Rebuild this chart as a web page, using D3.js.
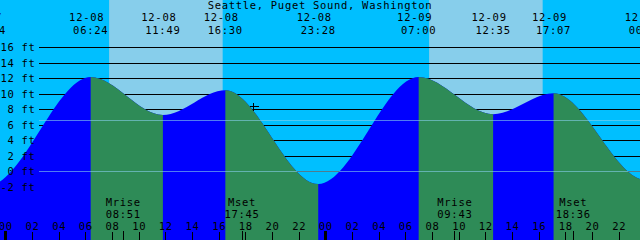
<!DOCTYPE html>
<html>
<head>
<meta charset="utf-8">
<script src="https://cdn.jsdelivr.net/npm/d3@7"></script>
<style>
  body { margin: 0; background: #fff; }
  svg { display: block; }
  text { font-family: "DejaVu Sans Mono", monospace; font-size: 10.5px; letter-spacing: 0.7px; fill: #000; }
</style>
</head>
<body>
<div id="chart"></div>
<script>
var svgWidth = 640;
var svgHeight = 240;

var title = "Seattle, Puget Sound, Washington";

// tide highs and lows (first and last one sit off the chart)
var tideDates = ["12-07", "12-07", "12-08", "12-08", "12-08", "12-08", "12-09", "12-09", "12-09", "12-10", "12-10"];
var tideTimes = ["15:52", "22:44", "06:24", "11:49", "16:30", "23:28", "07:00", "12:35", "17:07", "00:04", "07:36"];
var tideHeights = [10.6, -1.8, 12.2, 7.3, 10.5, -1.6, 12.2, 7.4, 10.1, -1.1, 12.0];

// daylight
var sunDates = ["12-08", "12-09"];
var sunrise = ["07:47", "07:47"];
var sunset = ["16:18", "16:18"];

// moon rise / set
var moonDates = ["12-08", "12-08", "12-09", "12-09"];
var moonTimes = ["08:51", "17:45", "09:43", "18:36"];
var moonNames = ["Mrise", "Mset", "Mrise", "Mset"];

// y ticks in ft and the lighter reference levels
var ftTicks = [-2, 0, 2, 4, 6, 8, 10, 12, 14, 16];
var markLevels = [0, 6.6];

// hour ticks along the bottom
var hourTicks = [0, 2, 4, 6, 8, 10, 12, 14, 16, 18, 20, 22, 24, 26, 28, 30, 32, 34, 36, 38, 40, 42, 44, 46];

// current time mark
var nowDate = "12-08";
var nowTime = "18:36";
var nowHeight = 8.4;

// hours counted from 12-08 00:00
function toHours(date, time) {
  return (+date.slice(3) - 8) * 24 + (+time.slice(0, 2)) + (+time.slice(3)) / 60;
}

var tides = tideDates.map(function(d, i) {
  return { date: d, time: tideTimes[i], h: toHours(d, tideTimes[i]), ft: tideHeights[i] };
});

var svg = d3.select("#chart")
  .append("svg")
  .attr("width", svgWidth)
  .attr("height", svgHeight);

var x = d3.scaleLinear()
  .domain([-0.4, 47.6])
  .range([0, svgWidth]);

var y = d3.scaleLinear()
  .domain([0, 16])
  .range([171.5, 47.5]);

// night / day background
svg.append("rect")
  .attr("width", svgWidth)
  .attr("height", svgHeight)
  .attr("fill", "#00bfff");

svg.selectAll(".day")
  .data(sunDates)
  .enter()
  .append("rect")
  .attr("class", "day")
  .attr("x", (d, i) => x(toHours(d, sunrise[i])))
  .attr("width", (d, i) => x(toHours(d, sunset[i])) - x(toHours(d, sunrise[i])))
  .attr("y", 0)
  .attr("height", svgHeight)
  .attr("fill", "#87ceeb");

// black grid lines (hidden under the water)
svg.selectAll(".grid")
  .data(ftTicks)
  .enter()
  .append("line")
  .attr("class", "grid")
  .attr("x1", 39)
  .attr("x2", svgWidth)
  .attr("y1", d => Math.floor(y(d)) + 0.5)
  .attr("y2", d => Math.floor(y(d)) + 0.5)
  .attr("stroke", "#000")
  .attr("shape-rendering", "crispEdges");

// water
var area = d3.area()
  .x(d => x(d.h))
  .y0(svgHeight)
  .y1(d => y(d.ft))
  .curve(d3.curveMonotoneX);

var falling = [];
for (var i = 0; i < tides.length - 1; i++) {
  if (tides[i + 1].ft < tides[i].ft) falling.push([tides[i].h, tides[i + 1].h]);
}

svg.append("clipPath")
  .attr("id", "fall")
  .selectAll("rect")
  .data(falling)
  .enter()
  .append("rect")
  .attr("x", d => x(d[0]))
  .attr("width", d => x(d[1]) - x(d[0]))
  .attr("y", 0)
  .attr("height", svgHeight);

svg.append("path")
  .datum(tides)
  .attr("d", area)
  .attr("fill", "#0000ff");

svg.append("path")
  .datum(tides)
  .attr("d", area)
  .attr("clip-path", "url(#fall)")
  .attr("fill", "#2e8b57");

// lighter reference lines over the water
svg.selectAll(".mark")
  .data(markLevels)
  .enter()
  .append("line")
  .attr("class", "mark")
  .attr("x1", 39)
  .attr("x2", svgWidth)
  .attr("y1", d => Math.floor(y(d)) + 0.5)
  .attr("y2", d => Math.floor(y(d)) + 0.5)
  .attr("stroke", "#87ceeb")
  .attr("stroke-opacity", 0.6)
  .attr("shape-rendering", "crispEdges");

// ft labels
var leftAxis = d3.axisLeft(y)
  .tickValues(ftTicks)
  .tickSize(0)
  .tickPadding(3.5)
  .tickFormat(d => d + " ft");

svg.append("g")
  .attr("transform", "translate(39,0)")
  .call(leftAxis)
  .call(g => g.select(".domain").remove())
  .call(g => g.selectAll("text").attr("font-family", null).attr("font-size", null));

// hour ticks
var topAxis = d3.axisTop(x)
  .tickValues(hourTicks)
  .tickSize(8)
  .tickPadding(2.5)
  .tickFormat(d => d3.format("02")(d % 24));

var hourAxis = svg.append("g")
  .attr("transform", `translate(0,${svgHeight})`)
  .call(topAxis)
  .call(g => g.select(".domain").remove())
  .call(g => g.selectAll("text").attr("font-family", null).attr("font-size", null));

hourAxis.selectAll(".tick line")
  .attr("shape-rendering", "crispEdges")
  .filter(d => d % 24 === 0)
  .attr("stroke-width", 3)
  .attr("y2", -9.5);

// moon rise / set
var moon = moonDates.map((d, i) => ({ h: toHours(d, moonTimes[i]), name: moonNames[i], time: moonTimes[i] }));

svg.selectAll(".moonTick")
  .data(moon)
  .enter()
  .append("line")
  .attr("class", "moonTick")
  .attr("x1", d => Math.floor(x(d.h)) + 0.5)
  .attr("x2", d => Math.floor(x(d.h)) + 0.5)
  .attr("y1", 231)
  .attr("y2", svgHeight)
  .attr("stroke", "#000")
  .attr("shape-rendering", "crispEdges");

svg.selectAll(".moonName")
  .data(moon)
  .enter()
  .append("text")
  .attr("x", d => x(d.h))
  .attr("y", 205.7)
  .attr("text-anchor", "middle")
  .text(d => d.name);

svg.selectAll(".moonTime")
  .data(moon)
  .enter()
  .append("text")
  .attr("x", d => x(d.h))
  .attr("y", 218)
  .attr("text-anchor", "middle")
  .text(d => d.time);

// tide event labels
svg.selectAll(".tideDate")
  .data(tides)
  .enter()
  .append("text")
  .attr("x", d => x(d.h) - 4)
  .attr("y", 21)
  .attr("text-anchor", "middle")
  .text(d => d.date);

svg.selectAll(".tideTime")
  .data(tides)
  .enter()
  .append("text")
  .attr("x", d => x(d.h))
  .attr("y", 34)
  .attr("text-anchor", "middle")
  .text(d => d.time);

// title
svg.append("text")
  .attr("x", svgWidth / 2)
  .attr("y", 9)
  .attr("text-anchor", "middle")
  .text(title);

// current time cross
var cx = Math.floor(x(toHours(nowDate, nowTime))) + 0.5;
var cy = Math.floor(y(nowHeight)) + 0.5;
svg.append("path")
  .attr("d", `M${cx - 4},${cy}H${cx + 5}M${cx},${cy - 4}V${cy + 4}`)
  .attr("stroke", "#000")
  .attr("fill", "none")
  .attr("shape-rendering", "crispEdges");
</script>
</body>
</html>
